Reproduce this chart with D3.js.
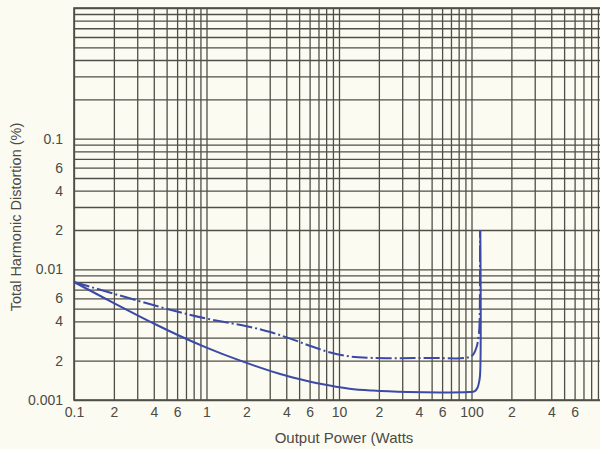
<!DOCTYPE html>
<html>
<head>
<meta charset="utf-8">
<script src="https://cdn.jsdelivr.net/npm/d3@7"></script>
<style>
  html, body { margin: 0; padding: 0; background: #fcfbf1; }
  svg { display: block; }
  text { font-family: "Liberation Sans", Arial, sans-serif; }
</style>
</head>
<body>
<svg id="chart" width="600" height="449"></svg>
<script>
// ---- Data ----
const xTickValues = [0.1, 0.2, 0.4, 0.6, 1, 2, 4, 6, 10, 20, 40, 60, 100, 200, 400, 600];
const xTickLabels = ["0.1", "2", "4", "6", "1", "2", "4", "6", "10", "2", "4", "6", "100", "2", "4", "6"];
const yTickValues = [0.001, 0.002, 0.004, 0.006, 0.01, 0.02, 0.04, 0.06, 0.1];
const yTickLabels = ["0.001", "2", "4", "6", "0.01", "2", "4", "6", "0.1"];

// Solid curve
const solidX = [0.1, 0.2, 0.4, 0.63, 1, 1.8, 3.6, 5.1, 7.2, 12, 18, 33, 58, 95, 106, 111, 114, 116, 116.5];
const solidY = [0.008, 0.00552, 0.00385, 0.00309, 0.00252, 0.002, 0.00158, 0.00144, 0.00133, 0.00122, 0.00118, 0.00115, 0.00114, 0.00115, 0.00117, 0.00124, 0.00137, 0.00155, 0.02];

// Dash-dot curve
const dashX = [0.1, 0.3, 0.6, 1, 1.51, 2.14, 3.03, 4.29, 6.1, 8.6, 12.2, 17.8, 29, 50, 90, 102, 107, 111, 114.5, 115.5, 116];
const dashY = [0.008, 0.00577, 0.00475, 0.0042, 0.00388, 0.00362, 0.00331, 0.00295, 0.00259, 0.00231, 0.00215, 0.0021, 0.00209, 0.0021, 0.0021, 0.0022, 0.0024, 0.0027, 0.0035, 0.005, 0.02];

// ---- Layout ----
const svg = d3.select("#chart");
const mLeft = 74, mRight = 604, mTop = 8, mBottom = 400;
const W = mRight - mLeft, H = mBottom - mTop;

const x = d3.scaleLog().domain([0.1, 1000]).range([mLeft, mRight]);
const y = d3.scaleLog().domain([0.001, 1]).range([mBottom, mTop]);

const gridColor = "#4f4f48";
const textColor = "#4a4a46";
const curveColor = "#3a4aa6";

const xLabelMap = new Map(xTickValues.map((v, i) => [v, xTickLabels[i]]));
const yLabelMap = new Map(yTickValues.map((v, i) => [v, yTickLabels[i]]));
const findLabel = (map, d) => {
  for (const [k, v] of map) if (Math.abs(k - d) / k < 1e-6) return v;
  return "";
};

// vertical grid + x labels
const xAxis = d3.axisBottom(x)
  .tickValues(x.ticks())
  .tickSize(-H)
  .tickPadding(7)
  .tickFormat(d => findLabel(xLabelMap, d));
const gx = svg.append("g").attr("transform", `translate(0,${mBottom})`).call(xAxis);
gx.select(".domain").remove();
gx.selectAll(".tick line").attr("stroke", gridColor).attr("stroke-width", 1.3);
gx.selectAll(".tick text").attr("fill", textColor).style("font-size", "14px");

// horizontal grid + y labels
const yAxis = d3.axisLeft(y)
  .tickValues(y.ticks())
  .tickSize(-W)
  .tickPadding(11)
  .tickFormat(d => findLabel(yLabelMap, d));
const gy = svg.append("g").attr("transform", `translate(${mLeft},0)`).call(yAxis);
gy.select(".domain").remove();
gy.selectAll(".tick line").attr("stroke", gridColor).attr("stroke-width", 1.3);
gy.selectAll(".tick text").attr("fill", textColor).style("font-size", "14px");

// frame
svg.append("rect")
  .attr("x", mLeft).attr("y", mTop).attr("width", W).attr("height", H)
  .attr("fill", "none").attr("stroke", gridColor).attr("stroke-width", 1.6);

// curves
const line = d3.line()
  .x(d => x(d[0])).y(d => y(d[1]))
  .curve(d3.curveCatmullRom.alpha(0.5));

svg.append("path")
  .datum(solidX.map((v, i) => [v, solidY[i]]))
  .attr("d", line)
  .attr("fill", "none")
  .attr("stroke", curveColor)
  .attr("stroke-width", 2);

svg.append("path")
  .datum(dashX.map((v, i) => [v, dashY[i]]))
  .attr("d", line)
  .attr("fill", "none")
  .attr("stroke", curveColor)
  .attr("stroke-width", 2)
  .attr("stroke-dasharray", "16,3,2,3");

// axis titles
svg.append("text")
  .attr("x", 344).attr("y", 443)
  .attr("text-anchor", "middle")
  .attr("fill", textColor)
  .style("font-size", "15px")
  .text("Output Power (Watts");

svg.append("text")
  .attr("transform", "translate(21,217) rotate(-90)")
  .attr("text-anchor", "middle")
  .attr("fill", textColor)
  .style("font-size", "14.5px")
  .text("Total Harmonic Distortion (%)");
</script>
</body>
</html>
